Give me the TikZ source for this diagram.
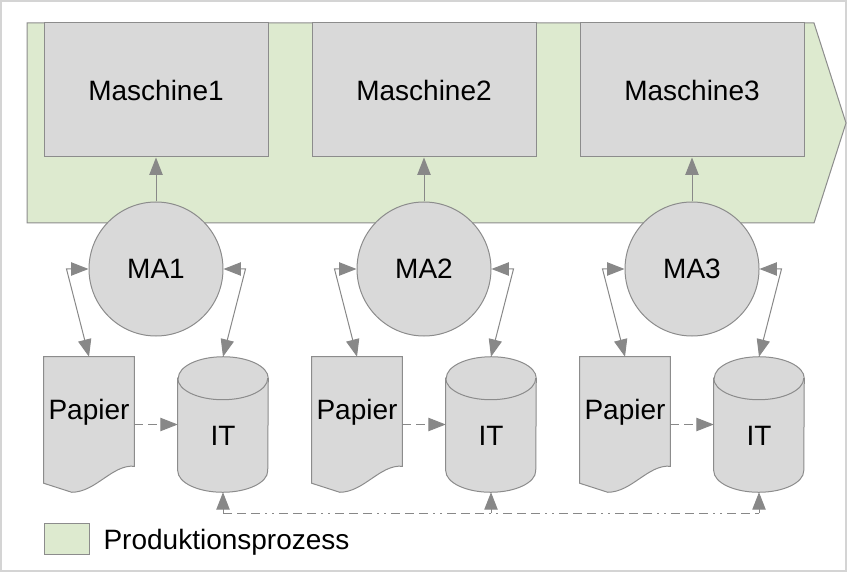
\documentclass[tikz,border=0pt]{standalone}
\usepackage{fontspec}
\setmainfont{Liberation Sans}
\usetikzlibrary{arrows.meta,calc,positioning}
\definecolor{boxgray}{RGB}{217,217,217}
\definecolor{linegray}{RGB}{140,140,140}
\definecolor{arrowgray}{RGB}{136,136,136}
\definecolor{procgreen}{RGB}{221,234,207}
\definecolor{framegray}{RGB}{212,212,212}
\begin{document}
\begin{tikzpicture}[x=0.75pt,y=-0.75pt,
    font=\fontsize{21}{25}\selectfont,
    >={Triangle[length=13pt,width=10pt]},
    box/.style={draw=linegray, fill=boxgray, line width=0.75pt},
    machine/.style={box, minimum width=168pt, minimum height=100.5pt, inner sep=0pt},
    worker/.style={box, circle, minimum size=100.5pt, inner sep=0pt},
    paper/.style={minimum width=67.5pt, minimum height=101.25pt, inner sep=0pt},
    store/.style={minimum width=67.5pt, minimum height=101.25pt, inner sep=0pt},
    lid/.style={x radius=33.75pt, y radius=16.125pt},
    process/.style={draw=linegray, fill=procgreen, line width=0.75pt},
    link/.style={draw=arrowgray, line width=0.75pt},
    dashdot/.style={link, dash pattern=on 6.75pt off 3.75pt on 6.75pt off 3.75pt on 6.75pt off 3.75pt
      on 1.5pt off 3.75pt on 1.5pt off 3.75pt}
]
\useasboundingbox (0,0) rectangle (848,573);
\draw[framegray, line width=1.2pt] (1,1) rectangle (846,571);
% production arrow in the background
\draw[process] (27,23) -- (814,23) -- (846,123) -- (814,223) -- (27,223) -- cycle;
\foreach \i/\x in {1/0,2/268,3/536} {
  \node[machine] (m\i) at (156+\x,90) {Maschine\i};
  \node[worker] (ma\i) at (156+\x,269) {MA\i};
  % paper document
  \node[paper] (pap\i) at (89+\x,424.5) {};
  \path[box] (pap\i.north west) -- (pap\i.north east) -- ($(pap\i.south east)+(0,-26)$)
    .. controls +(-22,-2) and +(24,0) .. ($(pap\i.south west)+(28,0)$)
    -- ($(pap\i.south west)+(0,-9)$) -- cycle;
  \node at ([yshift=9pt]pap\i.center) {Papier};
  % IT storage
  \node[store] (it\i) at (223+\x,424.5) {};
  \path[box] ($(it\i.north west)+(0,21.5)$) -- ($(it\i.south west)+(0,-21.5)$)
    arc[start angle=180, end angle=360, lid] -- ($(it\i.north east)+(0,21.5)$)
    arc[start angle=0, end angle=180, lid] -- cycle;
  \draw[linegray, line width=0.75pt] ($(it\i.north west)+(0,21.5)$) arc[start angle=180, end angle=360, lid];
  \node at ([yshift=-8.6pt]it\i.center) {IT};
  % connectors
  \draw[link,->] (ma\i) -- (m\i);
  \draw[link,<->] (pap\i.north) -- ([xshift=-16.5pt]ma\i.west) -- (ma\i.west);
  \draw[link,<->] (it\i.north) -- ([xshift=16.5pt]ma\i.east) -- (ma\i.east);
  \draw[dashdot,->] (pap\i.east) -- (it\i.west);
  \coordinate (bus\i) at ($(it\i.south)+(0,21)$);
  \draw[link,->] (bus\i) -- (it\i.south);
}
\draw[dashdot] (bus1) -- (bus3);
% legend
\node[process, minimum width=33.75pt, minimum height=23.25pt, inner sep=0pt] (legbox) at (66.5,538.5) {};
\node[right=7pt of legbox, yshift=-2.5pt] (legtext) {Produktionsprozess};
\end{tikzpicture}
\end{document}
